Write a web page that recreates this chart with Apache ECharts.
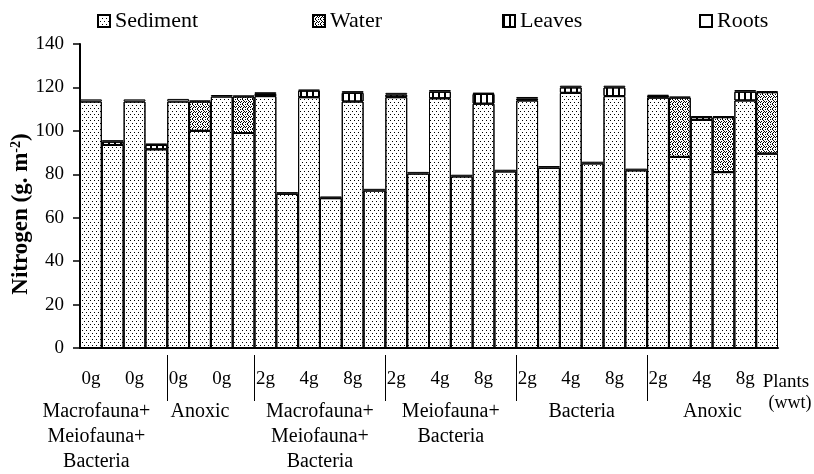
<!DOCTYPE html>
<html>
<head>
<meta charset="utf-8">
<script src="https://cdn.jsdelivr.net/npm/echarts@6/dist/echarts.min.js"></script>
<style>html,body{margin:0;padding:0;background:#fff}#c{width:814px;height:474px}</style>
</head>
<body>
<div id="c"></div>
<script>
// Dose labels (one per treatment; each treatment has two adjacent bars)
const doseLabels = ['0g','0g','0g','0g','2g','4g','8g','2g','4g','8g','2g','4g','8g','2g','4g','8g'];
// Treatment groups and number of treatments in each
const groupLabels = ['Macrofauna+\nMeiofauna+\nBacteria','Anoxic','Macrofauna+\nMeiofauna+\nBacteria','Meiofauna+\nBacteria','Bacteria','Anoxic'];
const groupSizes = [2,2,3,3,3,3];
const seriesNames = ['Sediment','Water','Leaves','Roots'];
const yTicks = [0,20,40,60,80,100,120,140];

// First bar of each pair
const sedimentA = [113.5,113.5,113.5,115.8,116,115.5,113.5,115.5,115,112.5,114,117.5,116,115.3,105,114];
const waterA    = [0,0,0,0,0,0,0,0,0,0,0,0,0,0,0,0];
const leavesA   = [0,0,0,0,1,3,4,1.2,3,4.5,0.8,2.5,4,0.8,1.3,4];
const rootsA    = [1,1,1.2,0.7,0.8,0.5,0.8,0.8,0.8,0.6,0.8,0.8,0.8,0.5,0.5,0.8];
// Second bar of each pair
const sedimentB = [93.5,91.5,100,99,71,69,72.5,80.3,79,81.3,83,85,81.8,88,81,89.5];
const waterB    = [0,0,13.5,16.8,0,0,0,0,0,0,0,0,0,27.3,25.3,28.3];
const leavesB   = [1.5,2,0,0,0,0,0,0,0,0,0,0,0,0,0,0];
const rootsB    = [0.7,0.7,0.5,0.5,0.8,0.8,0.8,0.8,0.8,0.8,0.8,0.8,0.8,0.5,0.5,0.5];

function interleave(a, b) {
  const out = [];
  for (let i = 0; i < a.length; i++) { out.push(a[i] || null); out.push(b[i] || null); }
  return out;
}
const barCats = [];
doseLabels.forEach(function (d) { barCats.push(d); barCats.push(''); });
const seriesData = [
  interleave(sedimentA, sedimentB),
  interleave(waterA, waterB),
  interleave(leavesA, leavesB),
  interleave(rootsA, rootsB)
];

// group separators and label centres (in bar units)
const sepPos = [];
const groupCenters = [];
const groupLabelShift = [-1.25, -0.5, 0, 0, 0, 0];
let acc = 0;
groupSizes.forEach(function (n, i) {
  const start = acc * 2; acc += n; const end = acc * 2;
  groupCenters.push((start + end) / 2 + groupLabelShift[i]);
  if (i < groupSizes.length - 1) sepPos.push(end);
});

const FONT = 'Liberation Serif';
const decals = [
  { symbol: 'rect', symbolSize: 1, color: '#000', dashArrayX: [[1, 3], [0, 2, 1, 1]], dashArrayY: [1, 2] },
  { symbol: 'rect', symbolSize: 1, color: '#000',
    dashArrayX: [[1, 1, 1, 2], [0, 3, 1, 1], [0, 1, 1, 2, 1, 0], [1, 2, 1, 1], [0, 2, 1, 2]], dashArrayY: [1, 0] },
  { symbol: 'rect', symbolSize: 1, color: '#000', dashArrayX: [1.2, 3.3], dashArrayY: [1, 0] },
  null
];

const chart = echarts.init(document.getElementById('c'), null, { renderer: 'canvas' });
const legendLefts = [97, 312, 502, 699];
const option = {
  animation: false,
  legend: seriesNames.map(function (n, i) {
    return {
      data: [n], left: legendLefts[i], top: 10, padding: 0, itemWidth: 12, itemHeight: 12,
      icon: 'rect',
      textStyle: { fontFamily: FONT, fontSize: 22, color: '#000' }
    };
  }),
  grid: { left: 80, right: 36, top: 44, bottom: 125, containLabel: false },
  xAxis: [{
    type: 'category', data: barCats, boundaryGap: true,
    axisLine: { lineStyle: { color: '#000', width: 2 } },
    axisTick: { show: false },
    axisLabel: { interval: 1, margin: 22, fontFamily: FONT, fontSize: 19, color: '#000' }
  }, {
    type: 'value', min: 0, max: barCats.length, position: 'bottom', offset: 7,
    axisLine: { show: false }, splitLine: { show: false },
    axisTick: { show: true, customValues: sepPos, length: 46, lineStyle: { color: '#000', width: 1 } },
    axisLabel: {
      customValues: groupCenters, margin: 44, fontFamily: FONT, fontSize: 20, lineHeight: 25, color: '#000',
      verticalAlign: 'top',
      formatter: function (v) {
        for (let i = 0; i < groupCenters.length; i++) if (Math.abs(groupCenters[i] - v) < 1e-6) return groupLabels[i];
        return '';
      }
    }
  }],
  yAxis: {
    type: 'value', min: yTicks[0], max: yTicks[yTicks.length - 1], interval: 20,
    axisLine: { show: true, lineStyle: { color: '#000', width: 2 } },
    axisTick: { show: true, length: 7, lineStyle: { color: '#000', width: 1.5 } },
    splitLine: { show: false },
    axisLabel: { margin: 16, fontFamily: FONT, fontSize: 19, color: '#000' }
  },
  graphic: [
    {
      type: 'text', x: 21, y: 214, rotation: Math.PI / 2,
      style: {
        text: 'Nitrogen (g. m{s|-2})', fill: '#000', font: 'bold 23px "Liberation Serif"',
        align: 'center', verticalAlign: 'middle',
        rich: { s: { fontSize: 14, fontWeight: 'bold', fontFamily: FONT, verticalAlign: 'top', padding: [0, 0, 10, 0] } }
      }
    },
    { type: 'text', x: 786, y: 382, style: { text: 'Plants', fill: '#000', font: '19px "Liberation Serif"', align: 'center', verticalAlign: 'middle' } },
    { type: 'text', x: 790, y: 403, style: { text: '(wwt)', fill: '#000', font: '18px "Liberation Serif"', align: 'center', verticalAlign: 'middle' } }
  ],
  series: seriesNames.map(function (n, i) {
    const st = { color: '#fff', borderColor: '#000', borderWidth: 1 };
    if (decals[i]) st.decal = decals[i];
    return {
      name: n, type: 'bar', stack: 'total', data: seriesData[i],
      barCategoryGap: '0%', barGap: '0%',
      itemStyle: st
    };
  })
};
chart.setOption(option);
</script>
</body>
</html>
